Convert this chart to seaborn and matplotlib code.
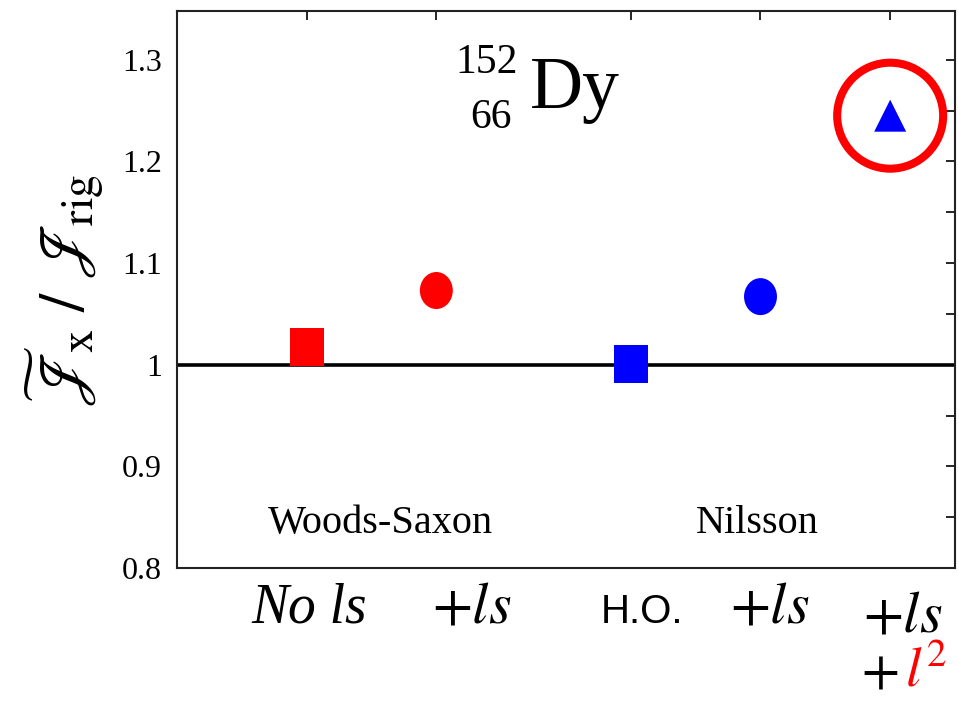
import numpy as np
import pandas as pd
import matplotlib
matplotlib.use("Agg")
import matplotlib.pyplot as plt
from matplotlib.path import Path
from matplotlib.ticker import MultipleLocator, FormatStrFormatter
import seaborn as sns

# Moment-of-inertia ratio for 152Dy, by single-particle potential
models = ["No ls", "+ls", "H.O.", "+ls", "+ls +l2"]
x_pos = [1.0, 2.0, 3.5, 4.5, 5.5]
ratio = [1.017, 1.073, 1.001, 1.067, 1.245]
potential = ["Woods-Saxon", "Woods-Saxon", "Nilsson", "Nilsson", "Nilsson"]
shape = ["square", "circle", "square", "circle", "triangle"]
y_ticks = [0.8, 0.9, 1.0, 1.1, 1.2, 1.3]

df = pd.DataFrame({"model": models, "x": x_pos, "ratio": ratio,
                   "potential": potential, "shape": shape})

sns.set_theme(style="white")
plt.rcParams["font.family"] = ["Liberation Serif", "DejaVu Serif"]
plt.rcParams["mathtext.fontset"] = "stix"
plt.rcParams["text.color"] = "black"
plt.rcParams["xtick.color"] = "black"
plt.rcParams["ytick.color"] = "black"

# slightly tall marker outlines
sq = Path([(-0.447, -0.5), (0.447, -0.5), (0.447, 0.5), (-0.447, 0.5), (-0.447, -0.5)],
          [Path.MOVETO, Path.LINETO, Path.LINETO, Path.LINETO, Path.CLOSEPOLY])
uc = Path.unit_circle()
ell = Path(uc.vertices * np.array([0.89, 1.0]), uc.codes)

fig = plt.figure(figsize=(9.58, 7.04), dpi=100)
ax = fig.add_axes([177 / 958, 1 - 568 / 704, 778 / 958, 557 / 704])

ax.axhline(1.0, color="black", lw=2.6, zorder=1)

sns.scatterplot(data=df, x="x", y="ratio", hue="potential", style="shape", size="shape",
                palette={"Woods-Saxon": "#ff0000", "Nilsson": "#0000ff"},
                markers={"square": sq, "circle": ell, "triangle": "^"},
                sizes={"square": 750, "circle": 710, "triangle": 530},
                linewidth=0, legend=False, ax=ax, zorder=3)

# highlight ring around the +ls +l2 result
ax.scatter([x_pos[4]], [ratio[4]], s=5822, facecolors="none", edgecolors="#ff0000",
           linewidths=5.8, zorder=4)

ax.set_xlim(0, 6)
ax.set_ylim(0.8, 1.348)
ax.set_xticks(x_pos)
ax.set_xticklabels([])
ax.set_yticks(y_ticks)
ax.yaxis.set_minor_locator(MultipleLocator(0.05))
ax.yaxis.set_major_formatter(FormatStrFormatter("%g"))
ax.tick_params(axis="both", which="both", direction="in", top=True, right=True,
               length=6.5, width=1.2, color="black")
ax.tick_params(axis="y", which="major", labelsize=23, pad=11, labelcolor="black")
ax.set_xlabel("")
ax.set_ylabel("")
for s in ax.spines.values():
    s.set_color("#222222")
    s.set_linewidth(1.5)

# nucleus label
ax.text(0.4383, 0.8887, "152", transform=ax.transAxes, ha="right", va="baseline", fontsize=30)
ax.text(0.4306, 0.7899, "66", transform=ax.transAxes, ha="right", va="baseline", fontsize=30)
ax.text(0.4537, 0.8259, "Dy", transform=ax.transAxes, ha="left", va="baseline", fontsize=53)

# potential group labels
ax.text(0.2609, 0.0628, "Woods-Saxon", transform=ax.transAxes, ha="center", va="baseline", fontsize=29)
ax.text(0.7455, 0.0628, "Nilsson", transform=ax.transAxes, ha="center", va="baseline", fontsize=29)

# category labels under the axis
tr = ax.transAxes
ax.text(0.1697, -0.0987, "No ls", transform=tr, ha="center", va="baseline",
        fontsize=40, fontstyle="italic")
ax.text(0.3792, -0.0987, r"$+ls$", transform=tr, ha="center", va="baseline",
        fontsize=42, math_fontfamily="stix")
ax.text(0.5977, -0.0987, "H.O.", transform=tr, ha="center", va="baseline",
        fontsize=29, family=["Liberation Sans", "DejaVu Sans"])
ax.text(0.7616, -0.0987, r"$+ls$", transform=tr, ha="center", va="baseline",
        fontsize=42, math_fontfamily="stix")
ax.text(0.9332, -0.1149, r"$+ls$", transform=tr, ha="center", va="baseline",
        fontsize=42, math_fontfamily="stix")
ax.text(0.9267, -0.2120, r"$+$", transform=tr, ha="right", va="baseline",
        fontsize=40, math_fontfamily="stix")
ax.text(0.9357, -0.2120, r"$l^2$", transform=tr, ha="left", va="baseline",
        fontsize=40, math_fontfamily="stix", color="#ff0000")

fig.text(65 / 958, 1 - 290 / 704,
         r"$\widetilde{\mathscr{J}}_{\mathrm{x}}\ /\ \mathscr{J}_{\mathrm{rig}}$",
         rotation=90, ha="center", va="center", fontsize=47, math_fontfamily="stix")

fig.savefig("out.png", dpi=100)
